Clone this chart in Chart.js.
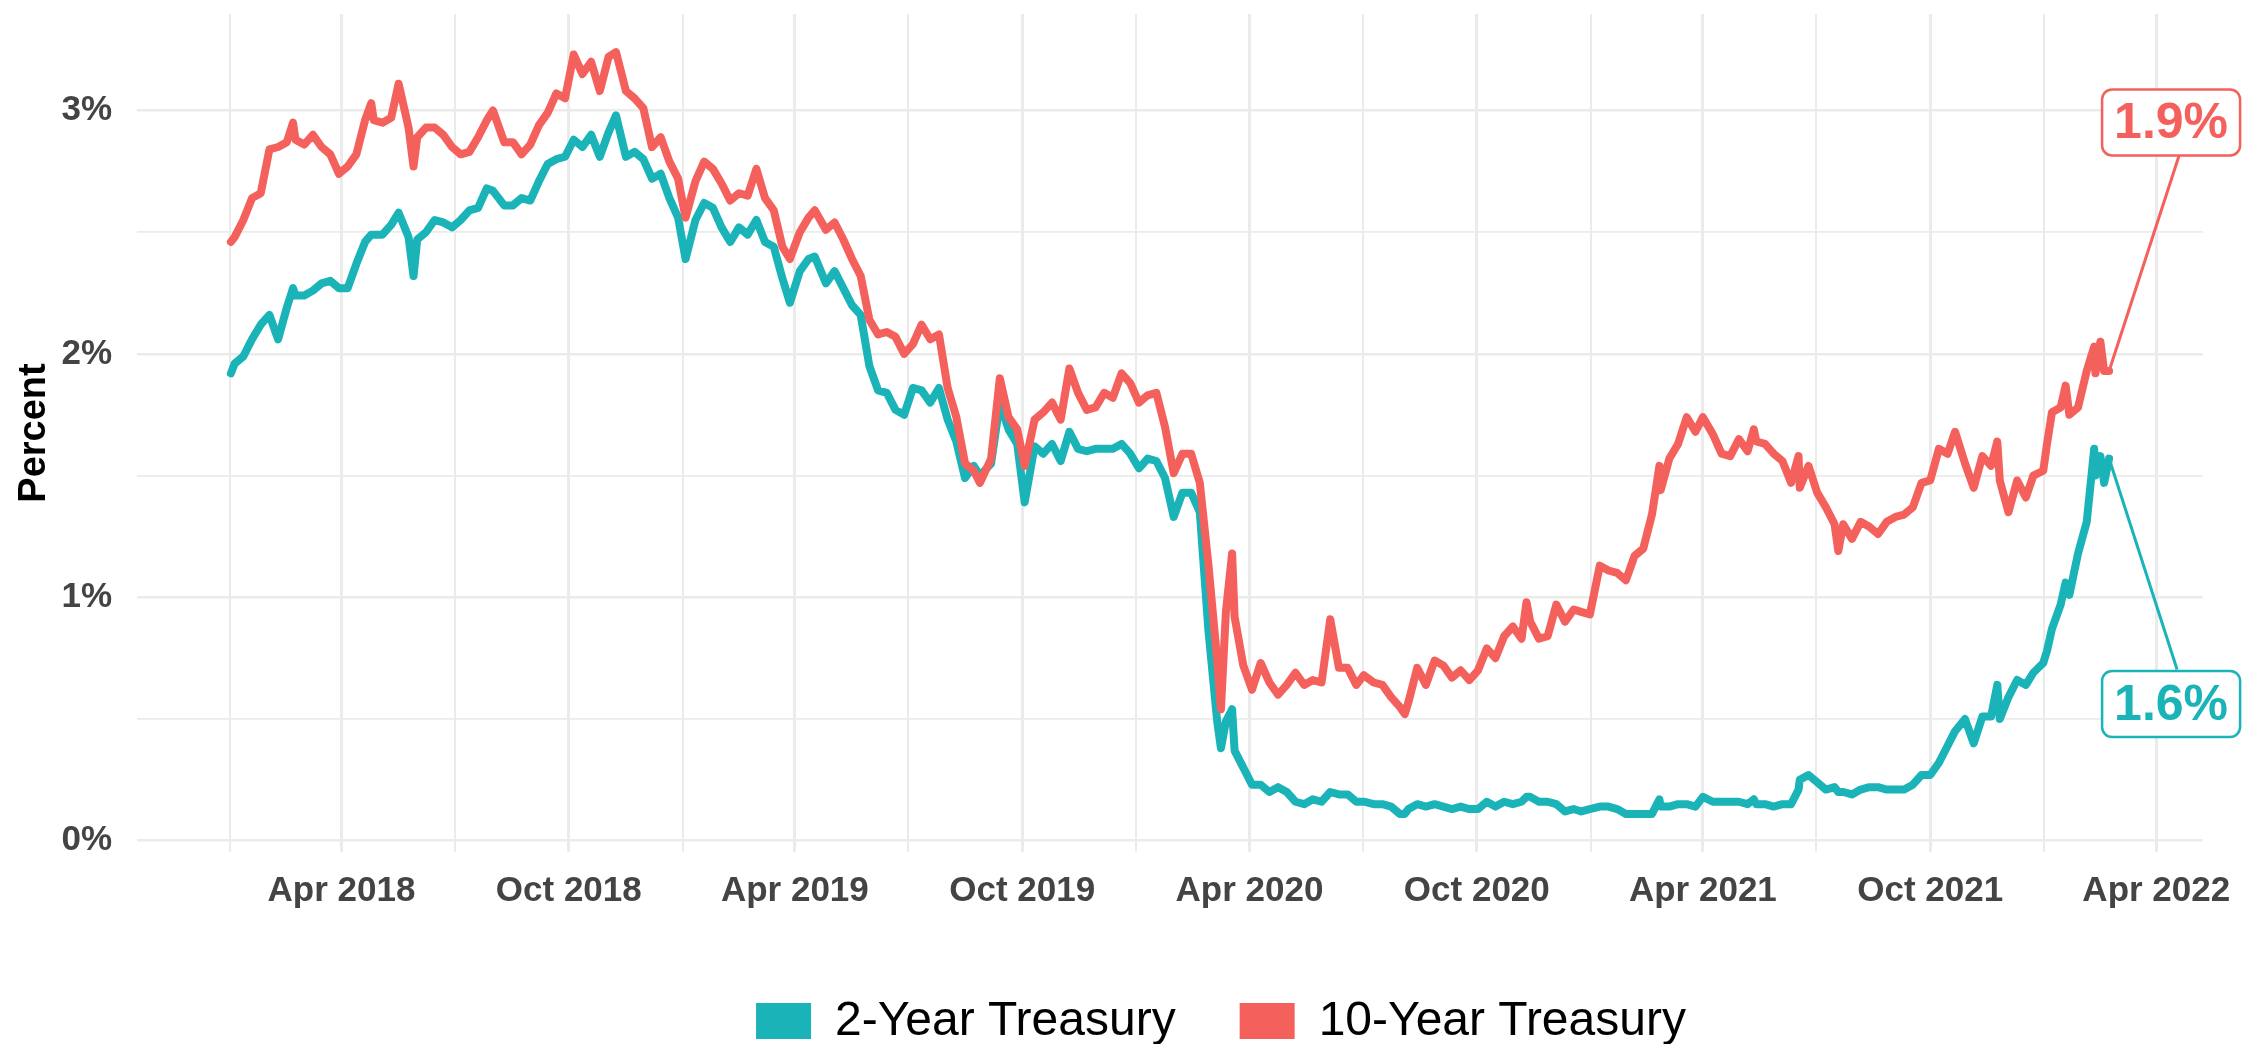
<!DOCTYPE html>
<html>
<head>
<meta charset="utf-8">
<script src="https://cdn.jsdelivr.net/npm/chart.js@4.4.1/dist/chart.umd.min.js"></script>
<style>
  html, body { margin: 0; padding: 0; background: #fff; }
  #wrap { width: 2257px; height: 1044px; }
</style>
</head>
<body>
<div id="wrap"><canvas id="yieldChart" width="2257" height="1044"></canvas></div>
<script>
// ── Dados: rendimentos semanais (%) ──────────────────────────────────────
var dates = [
  '2018-01-02','2018-01-05','2018-01-12','2018-01-19','2018-01-26','2018-02-02','2018-02-09','2018-02-16','2018-02-21','2018-02-23','2018-03-02','2018-03-09','2018-03-16','2018-03-23','2018-03-30',
  '2018-04-06','2018-04-13','2018-04-20','2018-04-25','2018-04-27','2018-05-04','2018-05-11','2018-05-17','2018-05-25','2018-05-29','2018-06-01','2018-06-08','2018-06-15','2018-06-22','2018-06-29',
  '2018-07-06','2018-07-13','2018-07-20','2018-07-27','2018-08-01','2018-08-10','2018-08-17','2018-08-24','2018-08-31','2018-09-07','2018-09-14','2018-09-21','2018-09-28',
  '2018-10-05','2018-10-12','2018-10-19','2018-10-26','2018-11-02','2018-11-08','2018-11-16','2018-11-23','2018-11-30','2018-12-07','2018-12-14','2018-12-21','2018-12-28',
  '2019-01-03','2019-01-11','2019-01-18','2019-01-25','2019-02-01','2019-02-08','2019-02-15','2019-02-22','2019-03-01','2019-03-08','2019-03-15','2019-03-22','2019-03-28',
  '2019-04-05','2019-04-12','2019-04-17','2019-04-26','2019-05-03','2019-05-10','2019-05-17','2019-05-24','2019-05-31','2019-06-07','2019-06-14','2019-06-21','2019-06-28',
  '2019-07-05','2019-07-12','2019-07-19','2019-07-26','2019-08-02','2019-08-09','2019-08-16','2019-08-23','2019-08-28','2019-09-06','2019-09-13','2019-09-20','2019-09-27',
  '2019-10-03','2019-10-11','2019-10-18','2019-10-25','2019-11-01','2019-11-08','2019-11-15','2019-11-22','2019-11-29','2019-12-06','2019-12-13','2019-12-20','2019-12-27',
  '2020-01-03','2020-01-10','2020-01-17','2020-01-24','2020-01-31','2020-02-07','2020-02-14','2020-02-21','2020-02-28','2020-03-06','2020-03-09','2020-03-13','2020-03-18','2020-03-20','2020-03-27',
  '2020-04-03','2020-04-10','2020-04-17','2020-04-24','2020-05-01','2020-05-08','2020-05-15','2020-05-22','2020-05-29','2020-06-05','2020-06-12','2020-06-19','2020-06-26',
  '2020-07-02','2020-07-10','2020-07-17','2020-07-24','2020-07-31','2020-08-04','2020-08-07','2020-08-14','2020-08-21','2020-08-28','2020-09-04','2020-09-11','2020-09-18','2020-09-25',
  '2020-10-02','2020-10-09','2020-10-16','2020-10-23','2020-10-30','2020-11-06','2020-11-10','2020-11-13','2020-11-20','2020-11-27','2020-12-04','2020-12-11','2020-12-18','2020-12-24','2020-12-31',
  '2021-01-08','2021-01-15','2021-01-22','2021-01-29','2021-02-05','2021-02-12','2021-02-19','2021-02-25','2021-02-26','2021-03-05','2021-03-12','2021-03-19','2021-03-26',
  '2021-04-01','2021-04-09','2021-04-16','2021-04-23','2021-04-30','2021-05-07','2021-05-12','2021-05-14','2021-05-21','2021-05-28','2021-06-04','2021-06-11','2021-06-17','2021-06-18','2021-06-25',
  '2021-07-02','2021-07-09','2021-07-16','2021-07-19','2021-07-23','2021-07-30','2021-08-06','2021-08-13','2021-08-20','2021-08-27','2021-09-03','2021-09-10','2021-09-17','2021-09-24',
  '2021-10-01','2021-10-08','2021-10-15','2021-10-21','2021-10-29','2021-11-05','2021-11-12','2021-11-19','2021-11-24','2021-11-26','2021-12-03','2021-12-10','2021-12-17','2021-12-23','2021-12-31',
  '2022-01-03','2022-01-07','2022-01-14','2022-01-18','2022-01-21','2022-01-28','2022-02-04','2022-02-10','2022-02-11','2022-02-15','2022-02-18','2022-02-22'
];

var twoYear = [
  1.92,1.96,1.99,2.06,2.12,2.16,2.06,2.19,2.27,2.24,2.24,2.26,2.29,2.30,2.27,
  2.27,2.37,2.46,2.49,2.49,2.49,2.53,2.58,2.48,2.32,2.47,2.50,2.55,2.54,2.52,
  2.55,2.59,2.60,2.68,2.67,2.61,2.61,2.64,2.63,2.71,2.78,2.80,2.81,
  2.88,2.85,2.90,2.81,2.91,2.98,2.81,2.83,2.80,2.72,2.74,2.64,2.56,
  2.39,2.55,2.62,2.60,2.52,2.46,2.52,2.49,2.55,2.46,2.44,2.31,2.21,
  2.34,2.39,2.40,2.29,2.34,2.27,2.20,2.16,1.95,1.85,1.84,1.77,1.75,
  1.86,1.85,1.80,1.86,1.73,1.64,1.49,1.54,1.50,1.55,1.80,1.69,1.63,
  1.39,1.62,1.59,1.63,1.56,1.68,1.61,1.60,1.61,1.61,1.61,1.63,1.59,
  1.53,1.57,1.56,1.49,1.33,1.43,1.43,1.35,0.86,0.49,0.38,0.49,0.54,0.37,0.30,
  0.23,0.23,0.20,0.22,0.20,0.16,0.15,0.17,0.16,0.20,0.19,0.19,0.16,
  0.16,0.15,0.15,0.14,0.11,0.11,0.13,0.15,0.14,0.15,0.14,0.13,0.14,0.13,
  0.13,0.16,0.14,0.16,0.15,0.16,0.18,0.18,0.16,0.16,0.15,0.12,0.13,0.12,0.13,
  0.14,0.14,0.13,0.11,0.11,0.11,0.11,0.17,0.14,0.14,0.15,0.15,0.14,
  0.18,0.16,0.16,0.16,0.16,0.15,0.17,0.15,0.15,0.14,0.15,0.15,0.21,0.25,0.27,
  0.24,0.21,0.22,0.20,0.20,0.19,0.21,0.22,0.22,0.21,0.21,0.21,0.23,0.27,
  0.27,0.32,0.39,0.45,0.50,0.40,0.51,0.51,0.64,0.50,0.59,0.66,0.64,0.69,0.73,
  0.78,0.87,0.97,1.06,1.01,1.18,1.31,1.61,1.50,1.58,1.47,1.57
];

var tenYear = [
  2.46,2.48,2.55,2.64,2.66,2.84,2.85,2.87,2.95,2.88,2.86,2.90,2.85,2.82,2.74,
  2.77,2.82,2.96,3.03,2.96,2.95,2.97,3.11,2.93,2.77,2.89,2.93,2.93,2.90,2.85,
  2.82,2.83,2.89,2.96,3.00,2.87,2.87,2.82,2.86,2.94,2.99,3.07,3.05,
  3.23,3.15,3.20,3.08,3.22,3.24,3.08,3.05,3.01,2.85,2.89,2.79,2.72,
  2.56,2.71,2.79,2.76,2.70,2.63,2.66,2.65,2.76,2.64,2.59,2.44,2.39,
  2.50,2.56,2.59,2.51,2.54,2.47,2.39,2.32,2.14,2.08,2.09,2.07,2.00,
  2.04,2.12,2.06,2.08,1.86,1.74,1.55,1.52,1.47,1.57,1.90,1.74,1.69,
  1.54,1.73,1.76,1.80,1.73,1.94,1.84,1.77,1.78,1.84,1.82,1.92,1.88,
  1.80,1.83,1.84,1.70,1.51,1.59,1.59,1.47,1.13,0.74,0.54,0.94,1.18,0.92,0.72,
  0.62,0.73,0.65,0.60,0.64,0.69,0.64,0.66,0.65,0.91,0.71,0.71,0.64,
  0.68,0.65,0.64,0.59,0.55,0.52,0.57,0.71,0.64,0.74,0.72,0.67,0.70,0.66,
  0.70,0.79,0.75,0.84,0.88,0.83,0.98,0.90,0.83,0.84,0.97,0.90,0.95,0.94,0.93,
  1.13,1.11,1.10,1.07,1.17,1.20,1.34,1.54,1.44,1.57,1.63,1.74,1.68,
  1.74,1.67,1.59,1.58,1.65,1.60,1.69,1.64,1.63,1.59,1.56,1.47,1.58,1.45,1.54,
  1.43,1.37,1.30,1.19,1.30,1.24,1.31,1.29,1.26,1.31,1.33,1.34,1.37,1.47,
  1.48,1.61,1.59,1.68,1.55,1.45,1.58,1.54,1.64,1.48,1.35,1.48,1.41,1.50,1.52,
  1.63,1.76,1.78,1.87,1.75,1.78,1.93,2.03,1.92,2.05,1.93,1.93
];

var seriesLabels = ['2-Year Treasury', '10-Year Treasury'];
var seriesColors = ['#1AB3B8', '#F4605B'];
var monthNames = ['Jan','Feb','Mar','Apr','May','Jun','Jul','Aug','Sep','Oct','Nov','Dec'];
var yTicks = [0, 0.5, 1, 1.5, 2, 2.5, 3];

// ── Escalas (expansão de 5% como no ggplot) ──────────────────────────────
var DAY = 864e5;
var xs = dates.map(function(s){ return Date.parse(s) / DAY; });
var xFirst = xs[0], xLast = xs[xs.length - 1];
var xPad = (xLast - xFirst) * 0.05;
var allY = twoYear.concat(tenYear);
var yLo = Math.min.apply(null, allY), yHi = Math.max.apply(null, allY);
var yPad = (yHi - yLo) * 0.05;

function toPoints(vals) {
    return vals.map(function(v, i){ return { x: xs[i], y: v }; });
}
function quarterTicks(min, max) {
    var out = [];
    for (var yr = 2017; yr <= 2023; yr++) {
        [0, 3, 6, 9].forEach(function(m) {
            var d = Date.UTC(yr, m, 1) / DAY;
            if (d >= min && d <= max) out.push({ value: d });
        });
    }
    return out;
}
function isMajorMonth(v) {
    var m = new Date(v * DAY).getUTCMonth();
    return m === 3 || m === 9;
}

var FONT = "'Liberation Sans', Arial, Helvetica, sans-serif";
var GRID = '#EBEBEB';

// ── Rótulos finais com linha de ligação ──────────────────────────────────
var labelOffsets = [
    { dx: 62, dy: 245.5, lx: 6, ly: -34.5 },   // 2-Year
    { dx: 62, dy: -248.5, lx: 8, ly: 33 }      // 10-Year
];

var endLabels = {
    id: 'endLabels',
    afterDatasetsDraw: function(chart) {
        var ctx = chart.ctx, sx = chart.scales.x, sy = chart.scales.y;
        ctx.save();
        chart.data.datasets.forEach(function(ds, i) {
            var p = ds.data[ds.data.length - 1];
            var px = sx.getPixelForValue(p.x), py = sy.getPixelForValue(p.y);
            var o = labelOffsets[i];
            var bx = px + o.dx, by = py + o.dy;
            var w = 138, h = 66;

            ctx.strokeStyle = ds.borderColor;
            ctx.lineWidth = 3;
            ctx.beginPath();
            ctx.moveTo(px, py);
            ctx.lineTo(bx + o.lx, by + o.ly);
            ctx.stroke();

            ctx.beginPath();
            ctx.roundRect(bx - w / 2, by - h / 2, w, h, 10);
            ctx.fillStyle = '#fff';
            ctx.fill();
            ctx.lineWidth = 2.5;
            ctx.stroke();

            ctx.fillStyle = ds.borderColor;
            ctx.font = 'bold 50px ' + FONT;
            ctx.textAlign = 'center';
            ctx.textBaseline = 'middle';
            ctx.fillText(p.y.toFixed(1) + '%', bx, by + 2);
        });
        ctx.restore();
    }
};

// ── Legenda inferior ─────────────────────────────────────────────────────
var bottomLegend = {
    id: 'bottomLegend',
    afterDraw: function(chart) {
        var ctx = chart.ctx;
        ctx.save();
        ctx.font = '48px ' + FONT;
        var keyW = 55, keyH = 36, textGap = 24, itemGap = 64;
        var items = chart.data.datasets.map(function(ds) {
            return { label: ds.label, color: ds.borderColor, w: ctx.measureText(ds.label).width };
        });
        var total = -itemGap;
        items.forEach(function(it){ total += keyW + textGap + it.w + itemGap; });
        var x = 1221 - total / 2, yMid = 1021;
        items.forEach(function(it) {
            ctx.fillStyle = it.color;
            ctx.fillRect(x, yMid - keyH / 2, keyW, keyH);
            ctx.fillStyle = '#000';
            ctx.textAlign = 'left';
            ctx.textBaseline = 'middle';
            ctx.fillText(it.label, x + keyW + textGap, yMid + 1);
            x += keyW + textGap + it.w + itemGap;
        });
        ctx.restore();
    }
};

new Chart(document.getElementById('yieldChart'), {
    type: 'line',
    data: {
        datasets: [
            {
                label: seriesLabels[0],
                data: toPoints(twoYear),
                borderColor: seriesColors[0],
                backgroundColor: seriesColors[0],
                order: 1
            },
            {
                label: seriesLabels[1],
                data: toPoints(tenYear),
                borderColor: seriesColors[1],
                backgroundColor: seriesColors[1],
                order: 0
            }
        ]
    },
    options: {
        responsive: false,
        animation: false,
        devicePixelRatio: 1,
        layout: { padding: { top: 14, right: 54, bottom: 112, left: 0 } },
        elements: {
            line: { borderWidth: 8, tension: 0, borderJoinStyle: 'round', borderCapStyle: 'round' },
            point: { radius: 0, hoverRadius: 0 }
        },
        plugins: {
            legend: { display: false },
            tooltip: { enabled: false }
        },
        scales: {
            x: {
                type: 'linear',
                min: xFirst - xPad,
                max: xLast + xPad,
                afterBuildTicks: function(scale) { scale.ticks = quarterTicks(scale.min, scale.max); },
                afterFit: function(scale) {
                    scale.height = 80;
                    scale.paddingLeft = 0;
                    scale.paddingRight = 0;
                },
                border: { display: false },
                grid: {
                    color: GRID,
                    drawTicks: false,
                    lineWidth: function(c) { return c.tick && isMajorMonth(c.tick.value) ? 3 : 2; }
                },
                ticks: {
                    autoSkip: false,
                    maxRotation: 0,
                    padding: 18,
                    color: '#444444',
                    font: { family: FONT, size: 35, weight: 'bold' },
                    callback: function(v) {
                        var d = new Date(v * DAY);
                        return isMajorMonth(v) ? monthNames[d.getUTCMonth()] + ' ' + d.getUTCFullYear() : '';
                    }
                }
            },
            y: {
                min: yLo - yPad,
                max: yHi + yPad,
                afterBuildTicks: function(scale) {
                    scale.ticks = yTicks.map(function(v){ return { value: v }; });
                },
                afterFit: function(scale) {
                    scale.width = 137;
                    scale.paddingTop = 0;
                    scale.paddingBottom = 0;
                },
                border: { display: false },
                grid: {
                    color: GRID,
                    drawTicks: false,
                    lineWidth: function(c) { return c.tick && c.tick.value % 1 === 0 ? 2.5 : 1.8; }
                },
                ticks: {
                    padding: 25,
                    color: '#444444',
                    font: { family: FONT, size: 35, weight: 'bold' },
                    callback: function(v) { return v % 1 === 0 ? v + '%' : ''; }
                },
                title: {
                    display: true,
                    text: 'Percent',
                    color: '#000',
                    padding: { top: 12, bottom: 0 },
                    font: { family: FONT, size: 38, weight: 'bold' }
                }
            }
        }
    },
    plugins: [endLabels, bottomLegend]
});
</script>
</body>
</html>
